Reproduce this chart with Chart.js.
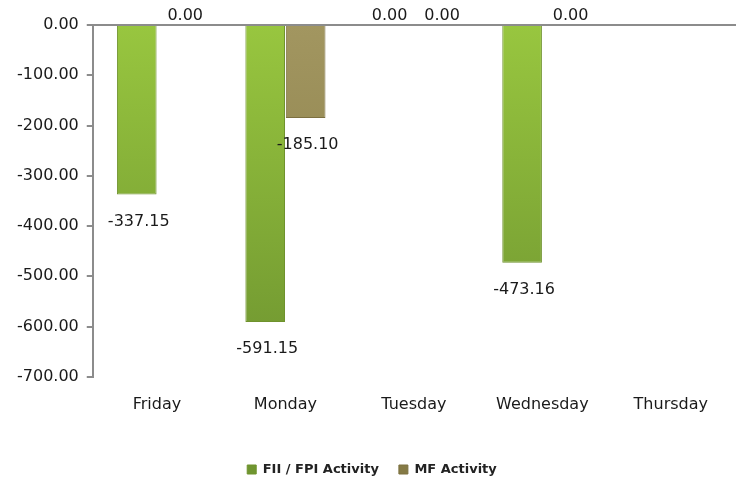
<!DOCTYPE html>
<html>
<head>
<meta charset="utf-8">
<script src="https://cdn.jsdelivr.net/npm/chart.js@4/dist/chart.umd.min.js"></script>
<style>
  html, body { margin: 0; padding: 0; background: #fff; }
  #wrap { width: 746px; height: 482px; }
</style>
</head>
<body>
<div id="wrap"><canvas id="mycanvas"></canvas></div>
<script>
var days = ['Friday', 'Monday', 'Tuesday', 'Wednesday', 'Thursday'];
var fiiValues = [-337.15, -591.15, 0, -473.16, null];
var mfValues = [0, -185.10, 0, 0, null];
var yTicks = [0, -100, -200, -300, -400, -500, -600, -700];

var FONT = '"DejaVu Sans", sans-serif';

// top-to-bottom shading across the plot area
function shade(top, bottom, flat) {
	return function(c) {
		var a = c.chart.chartArea;
		if (!a) return flat;
		var g = c.chart.ctx.createLinearGradient(0, a.top, 0, a.bottom);
		g.addColorStop(0, top);
		g.addColorStop(1, bottom);
		return g;
	};
}

// value labels: below the end of negative bars, above the axis for zeros
var barLabels = {
	id: 'barLabels',
	afterDatasetsDraw: function(chart) {
		var ctx = chart.ctx;
		ctx.save();
		ctx.font = '16px ' + FONT;
		ctx.fillStyle = '#1a1a1a';
		ctx.textAlign = 'center';
		ctx.textBaseline = 'middle';
		chart.data.datasets.forEach(function(ds, di) {
			var meta = chart.getDatasetMeta(di);
			meta.data.forEach(function(bar, i) {
				var v = ds.data[i];
				if (v === null || v === undefined) return;
				var y = v === 0 ? bar.y - 9 : bar.y + 27;
				var dx = v === 0 ? (di === 0 ? -4 : 8) : 2;
				ctx.fillText(v.toFixed(2), bar.x + dx, y);
			});
		});
		ctx.restore();
	}
};

var chartdata = {
	labels: days,
	datasets: [
		{
			label: 'FII / FPI Activity',
			backgroundColor: shade('#98c63f', '#6f9530', '#86ad3c'),
			borderColor: '#6f922d',
			borderWidth: 1,
			data: fiiValues
		},
		{
			label: 'MF Activity',
			backgroundColor: shade('#a29660', '#857a45', '#9d8f56'),
			borderColor: '#7c7040',
			borderWidth: 1,
			data: mfValues
		}
	]
};

var ctx = document.getElementById('mycanvas');

var barGraph = new Chart(ctx, {
	type: 'bar',
	data: chartdata,
	plugins: [barLabels],
	options: {
		responsive: true,
		maintainAspectRatio: false,
		animation: false,
		layout: { padding: { top: 25, right: 11, left: 9, bottom: -4 } },
		datasets: {
			bar: { categoryPercentage: 0.63, barPercentage: 0.98 }
		},
		plugins: {
			tooltip: { enabled: false },
			legend: {
				position: 'bottom',
				labels: {
					font: { family: FONT, size: 13, weight: 'bold' },
					color: '#222',
					boxWidth: 9,
					boxHeight: 9,
					padding: 20
				}
			}
		},
		scales: {
			x: {
				position: 'bottom',
				border: { display: false },
				grid: { display: false },
				afterFit: function(axis) { axis.height += 19; },
				ticks: {
					font: { family: FONT, size: 16 },
					color: '#1a1a1a',
					padding: 10
				}
			},
			x2: {
				position: 'top',
				labels: days,
				border: { display: true, color: '#8c8c8c', width: 2 },
				grid: { display: true, offset: true, drawOnChartArea: false, tickLength: 0, color: '#8c8c8c' },
				ticks: { display: false }
			},
			y: {
				min: -700,
				max: 0,
				afterBuildTicks: function(axis) {
					axis.ticks = yTicks.map(function(v) { return { value: v }; });
				},
				border: { display: true, color: '#8c8c8c', width: 2 },
				grid: { drawOnChartArea: false, tickLength: 6, color: '#8c8c8c', lineWidth: 2 },
				ticks: {
					font: { family: FONT, size: 16 },
					color: '#1a1a1a',
					padding: 8,
					callback: function(v) { return Number(v).toFixed(2); }
				}
			}
		}
	}
});
</script>
</body>
</html>
